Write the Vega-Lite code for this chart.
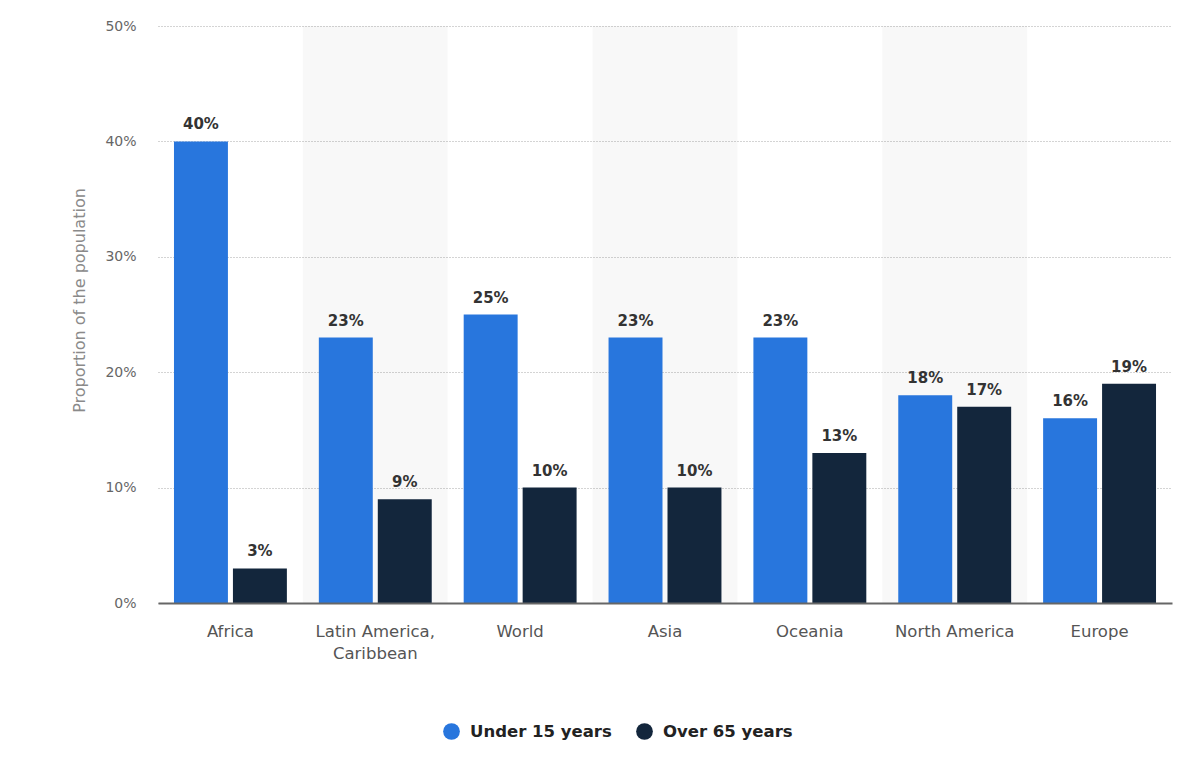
{
  "$schema": "https://vega.github.io/schema/vega-lite/v6.json",
  "width": 1014,
  "height": 577,
  "autosize": {"type": "none"},
  "padding": {"left": 158, "top": 26, "right": 13, "bottom": 167},
  "background": "white",
  "config": {
    "font": "DejaVu Sans",
    "view": {"stroke": null}
  },
  "datasets": {
    "population": [
      {"region": "Africa", "group": "Under 15 years", "share": 0.40},
      {"region": "Africa", "group": "Over 65 years", "share": 0.03},
      {"region": "Latin America, Caribbean", "group": "Under 15 years", "share": 0.23},
      {"region": "Latin America, Caribbean", "group": "Over 65 years", "share": 0.09},
      {"region": "World", "group": "Under 15 years", "share": 0.25},
      {"region": "World", "group": "Over 65 years", "share": 0.10},
      {"region": "Asia", "group": "Under 15 years", "share": 0.23},
      {"region": "Asia", "group": "Over 65 years", "share": 0.10},
      {"region": "Oceania", "group": "Under 15 years", "share": 0.23},
      {"region": "Oceania", "group": "Over 65 years", "share": 0.13},
      {"region": "North America", "group": "Under 15 years", "share": 0.18},
      {"region": "North America", "group": "Over 65 years", "share": 0.17},
      {"region": "Europe", "group": "Under 15 years", "share": 0.16},
      {"region": "Europe", "group": "Over 65 years", "share": 0.19}
    ],
    "regions": [
      {"region": "Africa"},
      {"region": "Latin America, Caribbean"},
      {"region": "World"},
      {"region": "Asia"},
      {"region": "Oceania"},
      {"region": "North America"},
      {"region": "Europe"}
    ]
  },
  "layer": [
    {
      "data": {"name": "regions"},
      "transform": [
        {"filter": {"field": "region", "oneOf": ["Latin America, Caribbean", "Asia", "North America"]}}
      ],
      "mark": {"type": "rect", "color": "#000000", "opacity": 0.028},
      "encoding": {
        "x": {"field": "region", "type": "nominal",
              "scale": {"domain": ["Africa", "Latin America, Caribbean", "World", "Asia", "Oceania", "North America", "Europe"],
                        "paddingInner": 0, "paddingOuter": 0}},
        "y": {"datum": 0, "type": "quantitative"},
        "y2": {"datum": 0.5}
      }
    },
    {
      "data": {"name": "population"},
      "mark": {"type": "bar"},
      "encoding": {
        "x": {
          "field": "region", "type": "nominal",
          "scale": {"domain": ["Africa", "Latin America, Caribbean", "World", "Asia", "Oceania", "North America", "Europe"],
                    "paddingInner": 0, "paddingOuter": 0},
          "axis": {
            "title": null,
            "labelAngle": 0,
            "labelAlign": "center",
            "labelFontSize": 16.5,
            "labelColor": "#555555",
            "labelPadding": 28,
            "labelLineHeight": 22,
            "labelExpr": "datum.label == 'Latin America, Caribbean' ? ['Latin America,', 'Caribbean'] : datum.label",
            "ticks": false,
            "domainColor": "#666666",
            "domainWidth": 2,
            "grid": false
          }
        },
        "xOffset": {
          "field": "group", "type": "nominal",
          "sort": ["Under 15 years", "Over 65 years"],
          "scale": {"paddingInner": 0.085, "paddingOuter": 0.271}
        },
        "y": {
          "field": "share", "type": "quantitative",
          "scale": {"domain": [0, 0.5], "nice": false},
          "axis": {
            "title": "Proportion of the population",
            "titleFontSize": 16,
            "titleFontWeight": "normal",
            "titleColor": "#8a8a8a",
            "titlePadding": 17,
            "titleY": 274,
            "format": ".0%",
            "values": [0, 0.1, 0.2, 0.3, 0.4, 0.5],
            "labelFontSize": 14,
            "labelColor": "#666666",
            "labelPadding": 22,
            "domain": false,
            "ticks": false,
            "grid": true,
            "gridColor": "#a8a8a8",
            "gridOpacity": 1,
            "gridDash": [1, 2],
            "gridWidth": 1
          }
        },
        "color": {
          "field": "group", "type": "nominal",
          "scale": {"domain": ["Under 15 years", "Over 65 years"], "range": ["#2876dd", "#13263c"]},
          "legend": {
            "title": null,
            "orient": "none",
            "direction": "horizontal",
            "legendX": 285,
            "legendY": 697,
            "symbolType": "circle",
            "symbolSize": 280,
            "symbolStrokeWidth": 0,
            "labelFontSize": 16.5,
            "labelFontWeight": 600,
            "labelColor": "#222222",
            "labelOffset": 10,
            "columnPadding": 24
          }
        }
      }
    },
    {
      "data": {"name": "population"},
      "mark": {"type": "text", "baseline": "bottom", "dy": -9, "fontSize": 15, "fontWeight": "bold", "color": "#333333"},
      "encoding": {
        "x": {"field": "region", "type": "nominal"},
        "xOffset": {"field": "group", "type": "nominal", "sort": ["Under 15 years", "Over 65 years"]},
        "y": {"field": "share", "type": "quantitative"},
        "text": {"field": "share", "type": "quantitative", "format": ".0%"}
      }
    }
  ]
}
